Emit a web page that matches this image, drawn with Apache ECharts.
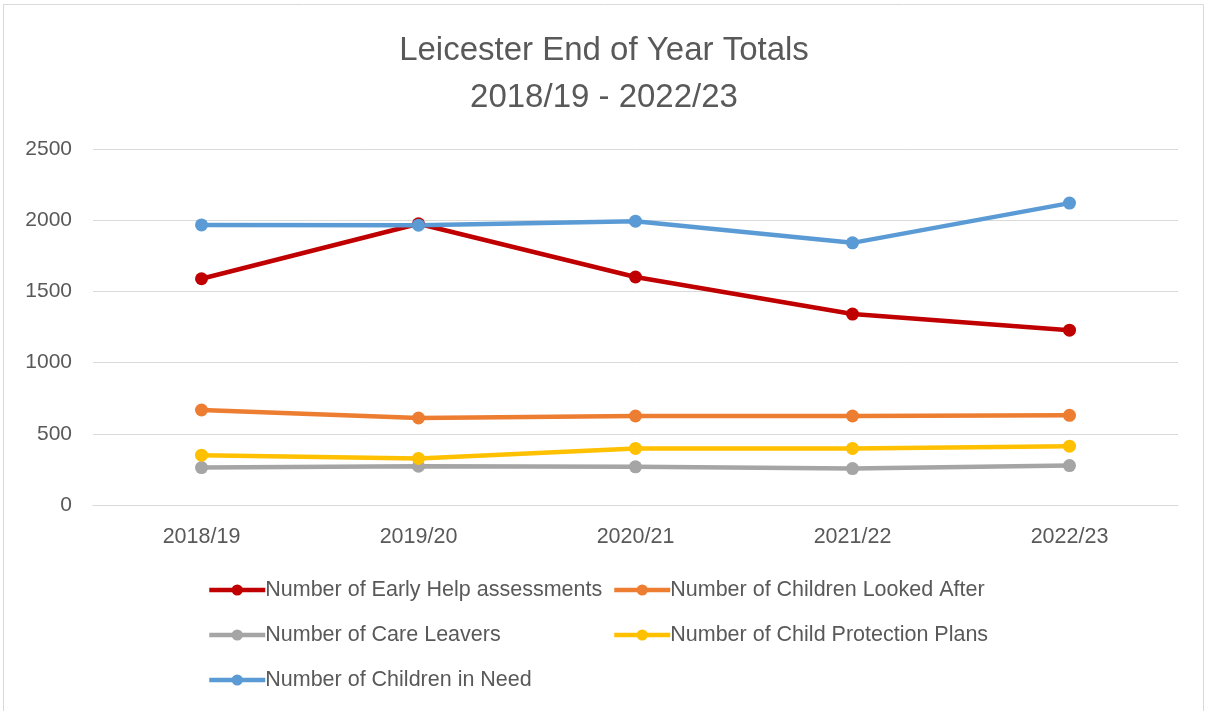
<!DOCTYPE html>
<html>
<head>
<meta charset="utf-8">
<script src="https://cdn.jsdelivr.net/npm/echarts@6/dist/echarts.min.js"></script>
<style>
  html, body { margin: 0; padding: 0; background: #fff; }
  #chart { width: 1208px; height: 711px; }
</style>
</head>
<body>
<div id="chart"></div>
<script>
var myChart = echarts.init(document.getElementById('chart'));

var years = ['2018/19', '2019/20', '2020/21', '2021/22', '2022/23'];

var earlyHelp = [1589, 1975, 1601, 1341, 1228];
var lookedAfter = [667, 611, 625, 625, 630];
var careLeavers = [263, 272, 268, 256, 277];
var protectionPlans = [350, 327, 397, 397, 413];
var inNeed = [1967, 1965, 1993, 1841, 2120];

var names = [
    'Number of Early Help assessments',
    'Number of Children Looked After',
    'Number of Care Leavers',
    'Number of Child Protection Plans',
    'Number of Children in Need'
];
var colors = ['#c00000', '#ed7d31', '#a5a5a5', '#ffc000', '#5b9bd5'];
var values = [earlyHelp, lookedAfter, careLeavers, protectionPlans, inNeed];

var font = 'Liberation Sans';
var textColor = '#595959';

var legendBase = {
    orient: 'vertical',
    top: 579,
    padding: 0,
    itemGap: 23,
    itemWidth: 56,
    itemHeight: 14,
    lineStyle: { width: 4.5 },
    textStyle: { color: textColor, fontSize: 21.5, fontFamily: font, padding: [0, 0, 0, -5] }
};

option = {
    backgroundColor: '#fff',
    color: colors,
    title: {
        text: 'Leicester End of Year Totals\n2018/19 - 2022/23',
        left: 'center',
        top: 22,
        textStyle: {
            color: textColor,
            fontSize: 33,
            fontWeight: 'normal',
            fontFamily: font,
            lineHeight: 47
        }
    },
    graphic: [{
        type: 'rect',
        shape: { x: 3.5, y: 4.5, width: 1200, height: 720 },
        style: { fill: 'none', stroke: '#d9d9d9', lineWidth: 1 },
        silent: true
    }],
    legend: [
        Object.assign({ left: 207, data: [names[0], names[2], names[4]] }, legendBase),
        Object.assign({ left: 612, data: [names[1], names[3]] }, legendBase)
    ],
    grid: {
        left: 93,
        right: 30,
        top: 149,
        bottom: 206
    },
    xAxis: {
        type: 'category',
        data: years,
        boundaryGap: true,
        axisLine: { lineStyle: { color: '#d9d9d9', width: 1 } },
        axisTick: { show: false },
        axisLabel: { color: textColor, fontSize: 21.5, fontFamily: font, margin: 21 }
    },
    yAxis: {
        type: 'value',
        min: 0,
        max: 2500,
        interval: 500,
        axisLine: { show: false },
        axisTick: { show: false },
        splitLine: { lineStyle: { color: '#d9d9d9', width: 1 } },
        axisLabel: {
            color: textColor, fontSize: 21, fontFamily: font, margin: 21,
            formatter: function (v) { return String(v); }
        }
    },
    series: values.map(function (v, i) {
        return {
            name: names[i],
            type: 'line',
            data: v,
            symbol: 'circle',
            symbolSize: 13,
            lineStyle: { width: 4.5, color: colors[i] },
            itemStyle: { color: colors[i] }
        };
    })
};
myChart.setOption(option);
</script>
</body>
</html>
